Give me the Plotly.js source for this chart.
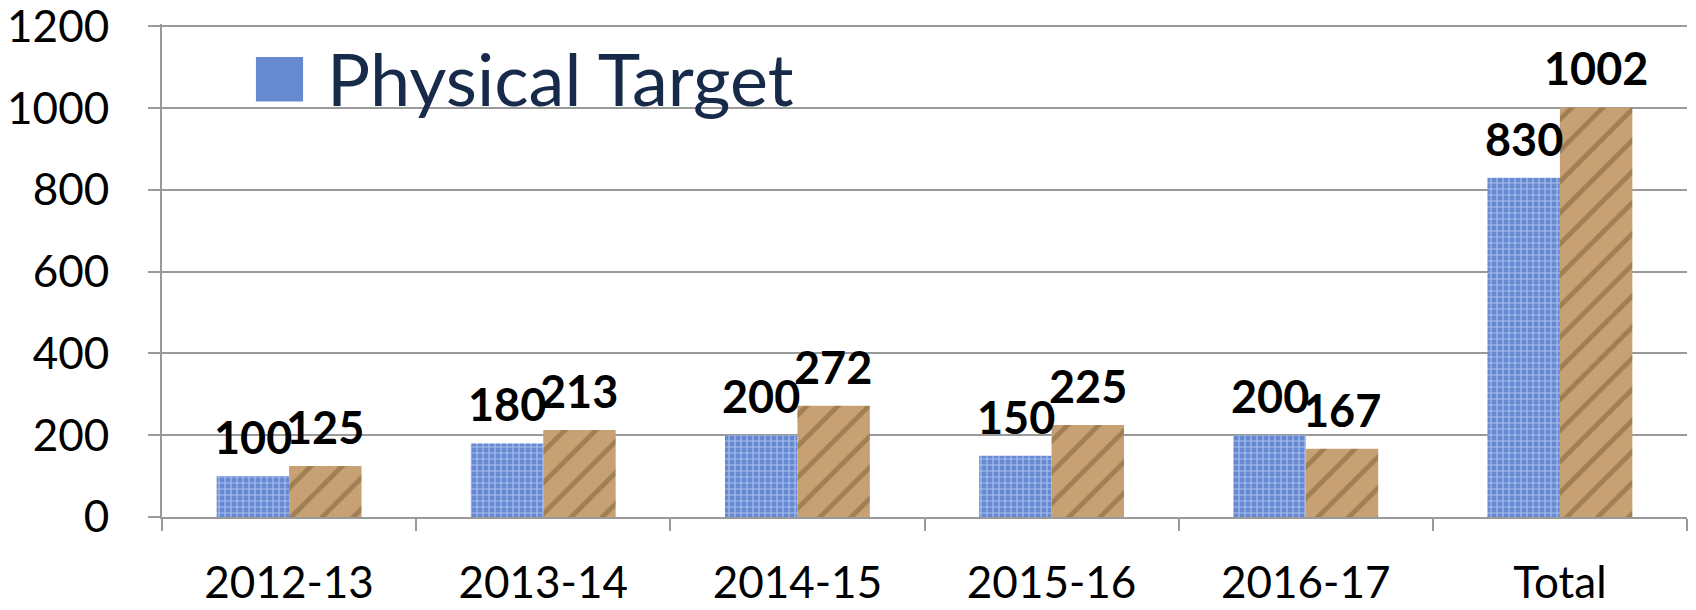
<!DOCTYPE html>
<html>
<head>
<meta charset="utf-8">
<script src="https://cdn.plot.ly/plotly-3.0.1.min.js"></script>
<style>html,body{margin:0;padding:0;background:#fff;}#chart{width:1696px;height:610px;}</style>
</head>
<body>
<div id="chart"></div>
<script>
const categories = ["2012-13", "2013-14", "2014-15", "2015-16", "2016-17", "Total"];
const physicalTarget = [100, 180, 200, 150, 200, 830];
const achievement = [125, 213, 272, 225, 167, 1002];
const yTicks = [0, 200, 400, 600, 800, 1000, 1200];

const FONT = "Lato, 'Open Sans', sans-serif";
const LABEL_FONT = {family: FONT, size: 45, color: "#000", weight: "bold"};

const traces = [
  {
    type: "bar",
    name: "Physical Target",
    x: categories,
    y: physicalTarget,
    marker: {
      color: "#6a8bd3",
      line: {width: 0},
      pattern: {shape: "+", bgcolor: "#6689d2", fgcolor: "#a9c1ef", size: 6, solidity: 0.35}
    },
    showlegend: false
  },
  {
    type: "bar",
    name: "Achievement",
    x: categories,
    y: achievement,
    marker: {
      color: "#c29c6e",
      line: {width: 0},
      pattern: {shape: "/", bgcolor: "#c7a173", fgcolor: "#a17f54", size: 22, solidity: 0.22}
    },
    showlegend: false
  }
];

// value labels drawn above each bar (offset to the bar's half of the group)
const BAR_SHIFT = 36;
const annotations = [];
categories.forEach((c, i) => {
  annotations.push({x: c, y: physicalTarget[i], xref: "x", yref: "y", text: String(physicalTarget[i]),
    showarrow: false, xanchor: "center", yanchor: "bottom", xshift: -BAR_SHIFT, yshift: 10, font: LABEL_FONT});
  annotations.push({x: c, y: achievement[i], xref: "x", yref: "y", text: String(achievement[i]),
    showarrow: false, xanchor: "center", yanchor: "bottom", xshift: BAR_SHIFT, yshift: 10, font: LABEL_FONT});
});
annotations.push({
  xref: "paper", yref: "paper",
  x: 0.107, y: 0.89, xanchor: "left", yanchor: "middle",
  text: "Physical Target", showarrow: false,
  font: {family: FONT, size: 72, color: "#172a4a"}
});

const layout = {
  width: 1696,
  height: 610,
  margin: {l: 162, r: 9, t: 24, b: 93},
  paper_bgcolor: "#ffffff",
  plot_bgcolor: "#ffffff",
  font: {family: FONT, color: "#000"},
  barmode: "group",
  bargap: 0.43,
  bargroupgap: 0,
  showlegend: false,
  xaxis: {
    type: "category",
    tickson: "boundaries",
    ticks: "outside",
    ticklen: 12,
    tickwidth: 2,
    tickcolor: "#9a9a9a",
    showline: true,
    linecolor: "#9a9a9a",
    linewidth: 2,
    showgrid: false,
    tickfont: {family: FONT, size: 44, color: "#000"},
    ticklabelstandoff: 26
  },
  yaxis: {
    range: [0, 1206],
    tickvals: yTicks,
    ticktext: yTicks.map(String),
    ticks: "outside",
    ticklen: 12,
    tickwidth: 2,
    tickcolor: "#9a9a9a",
    showline: true,
    linecolor: "#9a9a9a",
    linewidth: 2,
    showgrid: true,
    gridcolor: "#9a9a9a",
    gridwidth: 2,
    zeroline: false,
    ticklabeloverflow: "allow",
    tickfont: {family: FONT, size: 44, color: "#000"},
    ticklabelstandoff: 30
  },
  shapes: [
    {
      type: "rect", xref: "paper", yref: "paper",
      x0: 0.0616, x1: 0.0925, y0: 0.843, y1: 0.933,
      fillcolor: "#6689d2", line: {width: 0}
    }
  ],
  annotations: annotations
};

Plotly.newPlot("chart", traces, layout, {displayModeBar: false, staticPlot: true});
</script>
</body>
</html>
